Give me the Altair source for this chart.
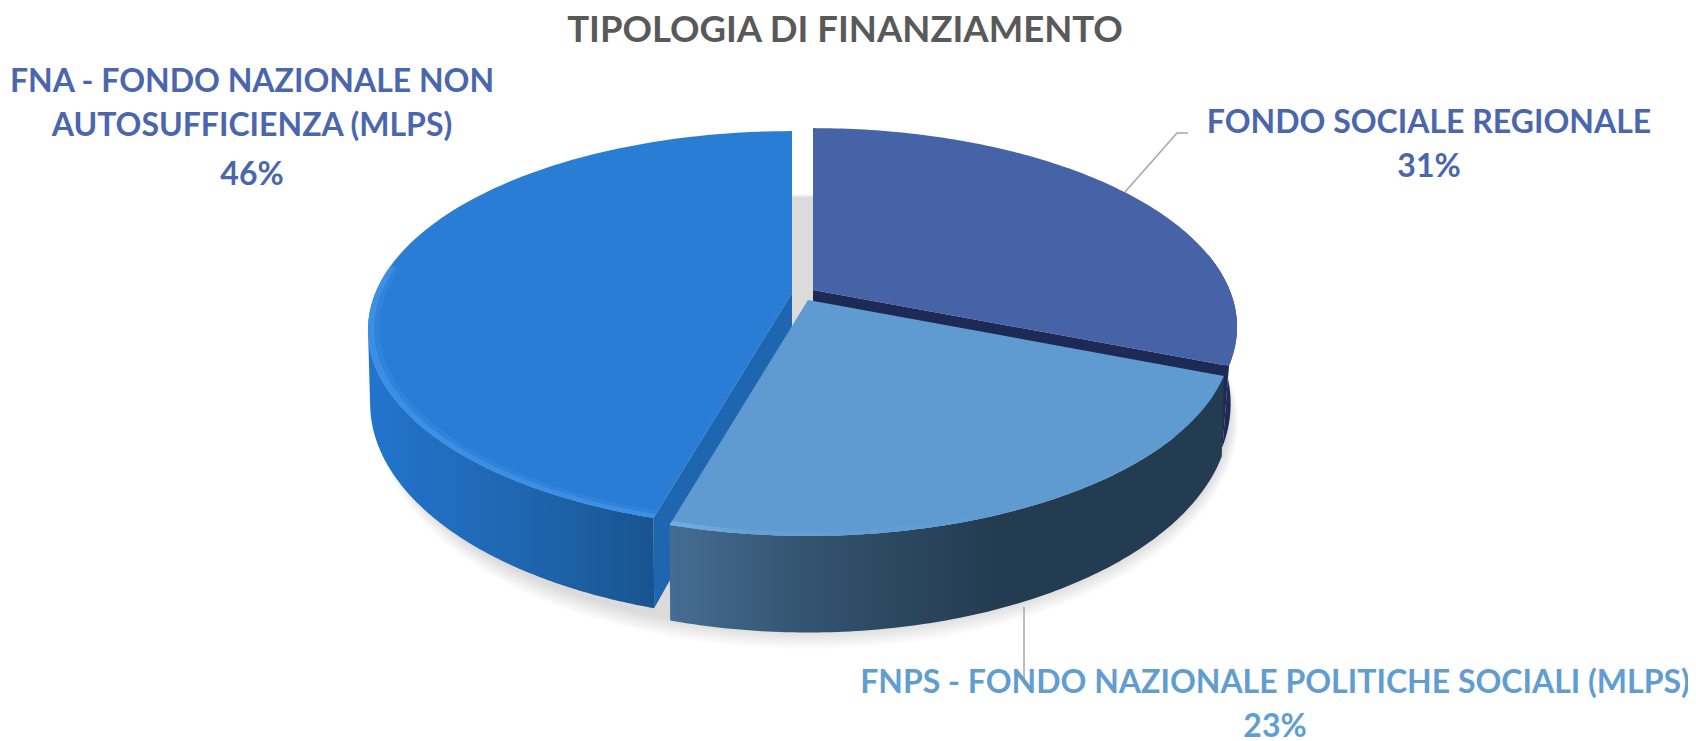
import numpy as np
import pandas as pd
import altair as alt

NAMES = ["FONDO SOCIALE REGIONALE", "FNPS - FONDO NAZIONALE POLITICHE SOCIALI (MLPS)", "FNA - FONDO NAZIONALE NON AUTOSUFFICIENZA (MLPS)"]
SHARES = [31.0, 23.4, 45.6]
TOPS = ["#4663A8", "#5F9BD1", "#2A7DD4"]
TITLE = "TIPOLOGIA DI FINANZIAMENTO"
LABEL_TEXT = ["FNA - FONDO NAZIONALE NON", "AUTOSUFFICIENZA (MLPS)", "46%",
              "FONDO SOCIALE REGIONALE", "31%",
              "FNPS - FONDO NAZIONALE POLITICHE SOCIALI (MLPS)", "23%"]
LABEL_X = [252, 252, 252, 1429, 1429, 1275, 1275]
LABEL_Y = [82, 126, 175, 123, 167, 683, 727]
LABEL_COLOR = ["#4A66AC"] * 5 + ["#629DD1"] * 2

# perspective view of the pie
K, A, B = 0.186, 416.6, 192.0
APEX = [(813, 290), (808, 300), (792, 293)]
DY = [73, 73, 70]
SY = [1.10, 1.10, 1.09]
SX = [0.985, 0.995, 0.995]

X = alt.X("x:Q", axis=None, scale=alt.Scale(domain=[8, 1688], nice=False, zero=False))
Y = alt.Y("y:Q", axis=None, scale=alt.Scale(domain=[741, 8], nice=False, zero=False))


def proj(deg, apex, r=1.0, dy=0.0, sy=1.0, sx=1.0):
    t = np.radians(deg)
    u, v = r * np.sin(t), -r * np.cos(t)
    d = 1 - K * v
    return apex[0] + A * sx * u / d, apex[1] + dy + B * sy * v / d


def shape(xs, ys, fill, opacity=1.0):
    df = pd.DataFrame({"x": xs, "y": ys, "i": range(len(xs))})
    return alt.Chart(df).mark_line(fill=fill, strokeWidth=0, strokeOpacity=0, fillOpacity=opacity, clip=False).encode(
        x=X, y=Y, order=alt.Order("i:Q"))


def grad(stops):
    return alt.LinearGradient(gradient="linear", x1=0, x2=1, y1=0, y2=0,
                              stops=[alt.GradientStop(offset=o, color=c) for o, c in stops])


def arc(a0, a1, apex, n=120, **kw):
    return proj(np.linspace(a0, a1, n), apex, **kw)


def wedge(a0, a1, apex):
    x, y = arc(a0, a1, apex)
    return np.r_[apex[0], x], np.r_[apex[1], y]


def wall(a0, a1, i, fill):
    x0, y0 = arc(a0, a1, APEX[i])
    x1, y1 = arc(a1, a0, APEX[i], dy=DY[i], sy=SY[i], sx=SX[i])
    return shape(np.r_[x0, x1], np.r_[y0, y1], fill)


def face(deg, i, fill):
    x0, y0 = proj(deg, APEX[i])
    x1, y1 = proj(deg, APEX[i], dy=DY[i], sy=SY[i], sx=SX[i])
    return shape([APEX[i][0], x0, x1, APEX[i][0]],
                 [APEX[i][1], y0, y1, APEX[i][1] + DY[i]], fill)


def bevel(a0, a1, i, fill, width=0.014, opacity=1.0):
    x0, y0 = arc(a0, a1, APEX[i])
    x1, y1 = arc(a1, a0, APEX[i], r=1 - width)
    return shape(np.r_[x0, x1], np.r_[y0, y1], fill, opacity)


edges = np.cumsum([0] + SHARES) / sum(SHARES) * 360
layers = []

# soft shadow
centre = (808, 296)
for s in np.linspace(0, 1, 12):
    x, y = arc(0, 360, centre, n=240, dy=78 + 5 * s, sy=1.09 * (1 + 0.05 * s), sx=0.995 * (1 + 0.02 * s))
    layers.append(shape(x, y, "#000000", 0.011))

# dark slice
layers.append(wall(79, edges[1], 0, "#1D2A55"))
layers.append(face(edges[1], 0, "#1D2A55"))
layers.append(shape(*wedge(edges[0], edges[1], APEX[0]), TOPS[0]))

# large slice
layers.append(wall(edges[2], 259, 2, grad([(0, "#2274CE"), (0.55, "#1F66AF"), (1, "#18548F")])))
layers.append(face(edges[2], 2, "#1E66B0"))
layers.append(shape(*wedge(edges[2], edges[3], APEX[2]), TOPS[2]))
layers.append(bevel(edges[2], 278, 2, "#3D8FE6", width=0.026, opacity=0.35))
layers.append(bevel(edges[2], 278, 2, "#3D8FE6"))

# front slice
layers.append(wall(edges[1], edges[2], 1, grad([(0, "#456D93"), (0.25, "#33536F"), (0.58, "#243C52"), (1, "#243C52")])))
layers.append(shape(*wedge(edges[1], edges[2], APEX[1]), TOPS[1]))
layers.append(bevel(edges[1] + 45, edges[2], 1, grad([(0, "#74ADE2"), (0.25, "#649FD6"), (1, "#5F9BD1")])))

# leader lines
lead = pd.DataFrame({"x": [1125, 1177, 1188, 1024, 1024], "y": [192, 133, 133, 607, 684],
                     "g": [0, 0, 0, 1, 1], "i": [0, 1, 2, 0, 1]})
layers.append(alt.Chart(lead).mark_line(color="#A6A6A6", strokeWidth=1.5).encode(
    x=X, y=Y, detail="g:N", order=alt.Order("i:Q")))

# labels
labels = pd.DataFrame({"x": LABEL_X, "y": LABEL_Y, "t": LABEL_TEXT, "c": LABEL_COLOR})
layers.append(alt.Chart(labels).mark_text(font="Lato", fontWeight="bold", fontSize=32, align="center", baseline="middle").encode(
    x=X, y=Y, text="t:N", color=alt.Color("c:N", scale=None, legend=None)))
layers.append(alt.Chart(pd.DataFrame({"x": [845], "y": [31], "t": [TITLE]})).mark_text(
    font="Lato", fontWeight="bold", fontSize=36.5, color="#595959", align="center", baseline="middle").encode(
    x=X, y=Y, text="t:N"))

chart = alt.layer(*layers).properties(
    width=1680, height=733, padding=0, background="white",
    autosize=alt.AutoSizeParams(type="none")
).configure_view(stroke=None)

chart.save("out.html", embed_options={"renderer": "svg", "actions": False})
